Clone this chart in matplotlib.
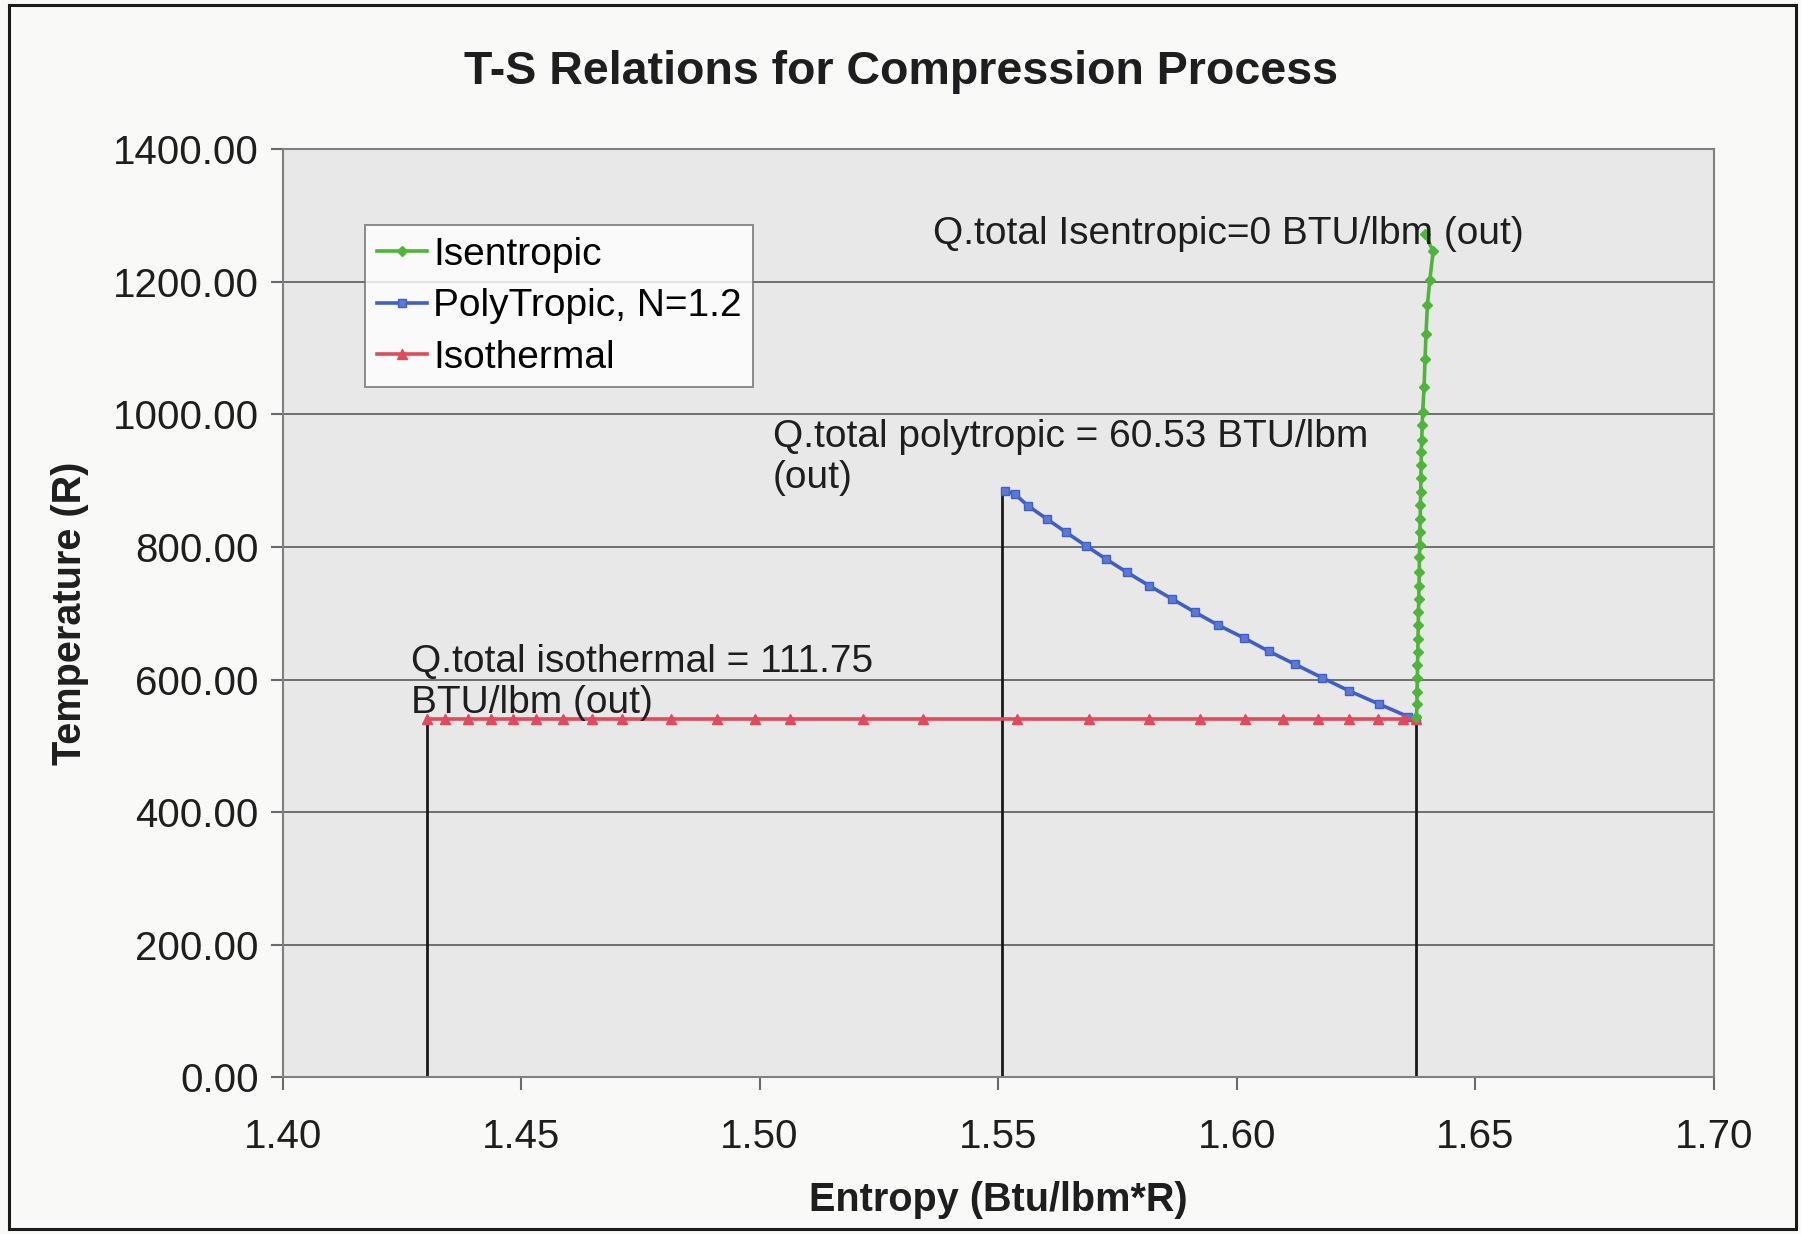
import matplotlib
matplotlib.use("Agg")
import matplotlib.pyplot as plt
from matplotlib.patches import Rectangle

# Entropy (Btu/lbm*R) and temperature (R) along each compression path
s_isentropic = [1.6377, 1.6378, 1.6378, 1.6379, 1.6379, 1.6380, 1.6380, 1.6381,
                1.6381, 1.6382, 1.6382, 1.6383, 1.6383, 1.6384, 1.6384, 1.6385,
                1.6385, 1.6386, 1.6386, 1.6387, 1.6387, 1.6388, 1.6389, 1.6390,
                1.6393, 1.6395, 1.6397, 1.6400, 1.6405, 1.6412, 1.6395]
t_isentropic = [544, 564, 582, 602, 622, 642, 662, 682, 702, 722, 742, 762, 785,
                803, 823, 843, 863, 883, 904, 924, 944, 962, 984, 1003, 1042,
                1084, 1122, 1165, 1203, 1246, 1272]

s_polytropic = [1.5514, 1.5535, 1.5563, 1.5603, 1.5643, 1.5684, 1.5726, 1.5770,
                1.5816, 1.5864, 1.5912, 1.5962, 1.6015, 1.6067, 1.6123, 1.6179,
                1.6236, 1.6299, 1.6360, 1.6377]
t_polytropic = [885, 880, 862, 842, 822, 802, 782, 762, 742, 722, 702, 682, 663,
                643, 623, 603, 583, 563, 544, 540]

s_isothermal = [1.4302, 1.4340, 1.4388, 1.4436, 1.4484, 1.4532, 1.4587, 1.4648,
                1.4711, 1.4815, 1.4910, 1.4990, 1.5064, 1.5217, 1.5342, 1.5539,
                1.5691, 1.5817, 1.5923, 1.6017, 1.6098, 1.6171, 1.6236, 1.6297,
                1.6349, 1.6377]
t_isothermal = [540] * len(s_isothermal)

# Vertical drop lines marking the start of each path
s_drop = [1.4302, 1.5508, 1.6375]
t_drop = [540, 878, 555]

x_ticks = [1.40, 1.45, 1.50, 1.55, 1.60, 1.65, 1.70]
y_ticks = [0, 200, 400, 600, 800, 1000, 1200, 1400]

notes = [
    ("Q.total Isentropic=0 BTU/lbm (out)", 1.5363, 1273),
    ("Q.total polytropic = 60.53 BTU/lbm\n(out)", 1.5028, 935),
    ("Q.total isothermal = 111.75\nBTU/lbm (out)", 1.4270, 596),
]

plt.rcParams["font.family"] = ["Liberation Sans", "DejaVu Sans"]

fig = plt.figure(figsize=(18.01, 12.34), dpi=100)
fig.patch.set_facecolor("#f9f9f8")
fig.patches.append(Rectangle((0.005, 0.004), 0.992, 0.992, transform=fig.transFigure,
                             fill=False, edgecolor="#1a1a1a", linewidth=2.2))

ax = fig.add_axes([0.1569, 0.1269, 0.7946, 0.7521])
ax.set_facecolor("#e8e8e8")
ax.set_xlim(1.40, 1.70)
ax.set_ylim(0, 1400)

ax.set_yticks(y_ticks)
ax.set_xticks(x_ticks)
ax.set_yticklabels([f"{v:.2f}" for v in y_ticks])
ax.set_xticklabels([f"{v:.2f}" for v in x_ticks])
ax.tick_params(axis="both", labelsize=29, color="#6a6a6a", length=9, width=1.5,
               labelcolor="#1e1e1e")
ax.tick_params(axis="x", pad=20)
ax.tick_params(axis="y", pad=8)
ax.grid(axis="y", color="#6e6e6e", linewidth=1.4)
ax.set_axisbelow(True)
for sp in ax.spines.values():
    sp.set_color("#808080")
    sp.set_linewidth(1.5)

for s, t in zip(s_drop, t_drop):
    ax.plot([s, s], [0, t], color="#1a1a1a", linewidth=2, zorder=2)

ax.plot(s_isentropic, t_isentropic, color="#4fb53a", linewidth=2.6, marker="D",
        markersize=5, label="Isentropic", zorder=4)
ax.plot(s_polytropic, t_polytropic, color="#3f5fc6", linewidth=2.6, marker="s",
        markersize=6, markerfacecolor="#5a78d8", label="PolyTropic, N=1.2", zorder=3)
ax.plot(s_isothermal, t_isothermal, color="#e04a5a", linewidth=2.6, marker="^",
        markersize=7, label="Isothermal", zorder=3)

for text, x, y in notes:
    ax.text(x, y, text, fontsize=28, color="#1e1e1e", va="center", ha="left",
            linespacing=1.2, zorder=5)

leg = ax.legend(loc="upper left", bbox_to_anchor=(0.0576, 0.9184), borderaxespad=0,
                fontsize=28, frameon=True, fancybox=False, handlelength=1.3,
                handletextpad=0.15, borderpad=0.3, labelspacing=0.4)
leg.get_frame().set_edgecolor("#707070")
leg.get_frame().set_linewidth(1.4)
leg.get_frame().set_facecolor("white")

fig.text(0.5, 0.942, "T-S Relations for Compression Process", fontsize=33.5,
         fontweight="bold", color="#1e1e1e", ha="center", va="center")
ax.set_xlabel("Entropy (Btu/lbm*R)", fontsize=28.5, fontweight="bold", color="#1e1e1e",
              labelpad=18)
ax.set_ylabel("Temperature (R)", fontsize=28.5, fontweight="bold", color="#1e1e1e",
              labelpad=17)

fig.savefig("out.png", dpi=100, facecolor=fig.get_facecolor())
